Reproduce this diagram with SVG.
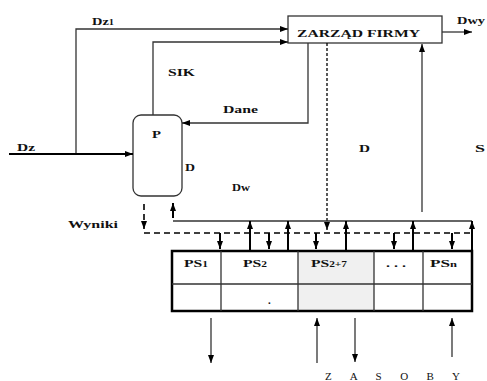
<svg xmlns="http://www.w3.org/2000/svg" width="487" height="381" viewBox="0 0 487 381">
<style>
.t{font-family:"Liberation Serif","Times New Roman",serif;font-weight:bold;font-size:11px;fill:#111}
.ln{fill:none;stroke:#333;stroke-width:1.3}
.th{fill:none;stroke:#000;stroke-width:2}
.ds{fill:none;stroke:#000;stroke-width:1.6;stroke-dasharray:6 4}
.df{fill:none;stroke:#000;stroke-width:1.3;stroke-dasharray:3 2}
</style>
<defs>
<marker id="a" viewBox="0 0 8 6" refX="8" refY="3" markerWidth="8" markerHeight="6" markerUnits="userSpaceOnUse" orient="auto"><path d="M0,0L8,3L0,6z" fill="#000"/></marker>
</defs>
<rect width="487" height="381" fill="#fff"/>
<g id="zarzad">
<rect x="288" y="16" width="154" height="27" fill="#fff" stroke="#333" stroke-width="1.3"/>
<text class="t" x="297" y="37" textLength="123" lengthAdjust="spacingAndGlyphs">ZARZĄD FIRMY</text>
</g>
<g id="p">
<rect x="133" y="115" width="49" height="81" rx="8" fill="#fff" stroke="#333" stroke-width="1.3"/>
<text class="t" x="152" y="138" textLength="9" lengthAdjust="spacingAndGlyphs">P</text>
</g>
<g id="tabela">
<rect x="298" y="251" width="76" height="60" fill="#f0f0f0"/>
<rect x="172" y="251" width="300" height="60" fill="none" stroke="#000" stroke-width="2.5"/>
<path class="ln" d="M172,284H472M221,251V311M298,251V311M374,251V311M423,251V311"/>
<text class="t" x="184" y="267" textLength="24" lengthAdjust="spacingAndGlyphs">PS<tspan font-size="8">1</tspan></text>
<text class="t" x="243" y="267" textLength="24" lengthAdjust="spacingAndGlyphs">PS<tspan font-size="8">2</tspan></text>
<text class="t" x="311" y="267" textLength="36" lengthAdjust="spacingAndGlyphs">PS<tspan font-size="8">2+7</tspan></text>
<text class="t" x="386" y="267" textLength="20" lengthAdjust="spacingAndGlyphs">. . .</text>
<text class="t" x="430" y="267" textLength="27" lengthAdjust="spacingAndGlyphs">PS<tspan font-size="8">n</tspan></text>
<text class="t" x="268" y="304" font-size="6">.</text>
</g>
<g id="connectors">
<path class="ln" d="M76,154V29H288" marker-end="url(#a)"/>
<path class="ln" d="M153,115V42H288" marker-end="url(#a)"/>
<path class="ln" d="M308,43V123H182" marker-end="url(#a)"/>
<path class="ln" d="M442,32H472" marker-end="url(#a)"/>
<path class="th" d="M9,154H133" marker-end="url(#a)"/>
<path class="ln" d="M422,212V44" marker-end="url(#a)"/>
<path class="df" d="M327,43V230" marker-end="url(#a)"/>
<path class="ds" d="M144,204V229" marker-end="url(#a)"/>
<path class="ds" d="M144,233H470"/>
<path class="ln" d="M173,221H472"/>
<path class="th" d="M173,218V203" marker-end="url(#a)"/>
<g class="th">
<path d="M250,251V221" marker-end="url(#a)"/>
<path d="M288,251V221" marker-end="url(#a)"/>
<path d="M346,251V221" marker-end="url(#a)"/>
<path d="M413,251V221" marker-end="url(#a)"/>
<path d="M472,251V221" marker-end="url(#a)"/>
<path d="M220,233V249" marker-end="url(#a)"/>
<path d="M269,233V249" marker-end="url(#a)"/>
<path d="M316,233V249" marker-end="url(#a)"/>
<path d="M394,233V249" marker-end="url(#a)"/>
<path d="M452,233V249" marker-end="url(#a)"/>
</g>
<g class="ln" stroke-width="1.5">
<path d="M211,318V363" marker-end="url(#a)"/>
<path d="M317,363V318" marker-end="url(#a)"/>
<path d="M355,318V362" marker-end="url(#a)"/>
<path d="M452,357V318" marker-end="url(#a)"/>
</g>
</g>
<g id="labels">
<text class="t" x="92" y="25" textLength="22" lengthAdjust="spacingAndGlyphs">Dz<tspan font-size="8">1</tspan></text>
<text class="t" x="168" y="76" textLength="27" lengthAdjust="spacingAndGlyphs">SIK</text>
<text class="t" x="223" y="113" textLength="35" lengthAdjust="spacingAndGlyphs">Dane</text>
<text class="t" x="457" y="24" textLength="28" lengthAdjust="spacingAndGlyphs">Dwy</text>
<text class="t" x="17" y="151" textLength="18" lengthAdjust="spacingAndGlyphs">Dz</text>
<text class="t" x="185" y="171" textLength="10" lengthAdjust="spacingAndGlyphs">D</text>
<text class="t" x="232" y="191" textLength="18" lengthAdjust="spacingAndGlyphs">Dw</text>
<text class="t" x="359" y="152" textLength="11" lengthAdjust="spacingAndGlyphs">D</text>
<text class="t" x="475" y="152" textLength="10" lengthAdjust="spacingAndGlyphs">S</text>
<text class="t" x="68" y="228" textLength="50" lengthAdjust="spacingAndGlyphs">Wyniki</text>
<text x="325" y="380" font-family="Liberation Serif, serif" font-size="11" fill="#111" textLength="135" lengthAdjust="spacing">Z A S O B Y</text>
</g>
</svg>
